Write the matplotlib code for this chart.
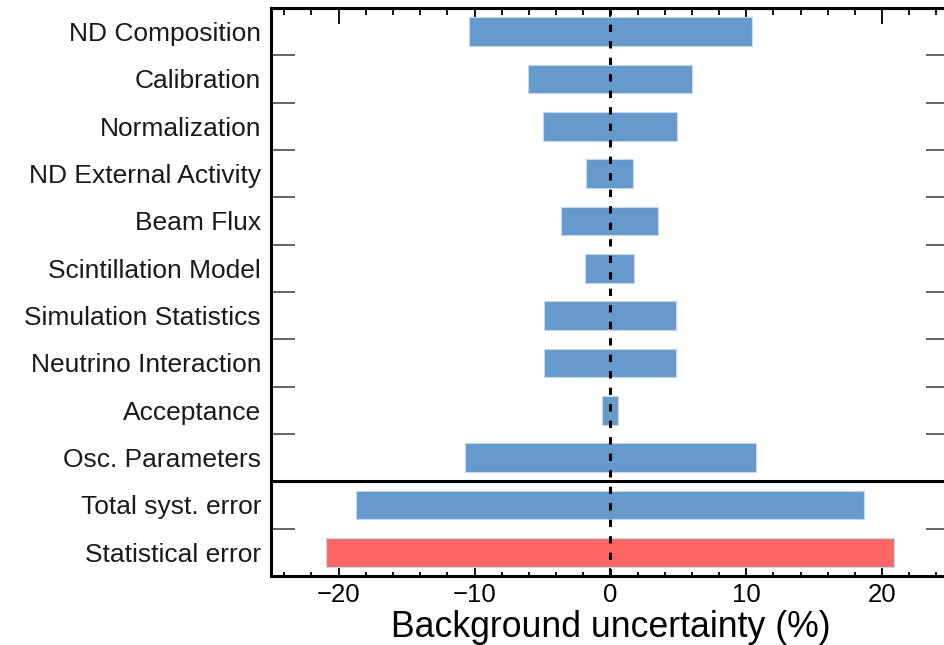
import matplotlib
matplotlib.use("Agg")
import matplotlib.pyplot as plt
from matplotlib.ticker import FixedLocator, MultipleLocator

plt.rcParams["font.family"] = ["Liberation Sans", "DejaVu Sans"]

# background uncertainty per source, in percent (down / up shift)
sources = [
    "ND Composition",
    "Calibration",
    "Normalization",
    "ND External Activity",
    "Beam Flux",
    "Scintillation Model",
    "Simulation Statistics",
    "Neutrino Interaction",
    "Acceptance",
    "Osc. Parameters",
    "Total syst. error",
    "Statistical error",
]
shift_down = [-10.4, -6.1, -4.95, -1.8, -3.6, -1.85, -4.85, -4.85, -0.65, -10.7, -18.7, -20.9]
shift_up = [10.4, 6.0, 4.9, 1.7, 3.5, 1.75, 4.8, 4.8, 0.55, 10.75, 18.7, 20.9]

blue = "#6699cc"
red = "#ff6666"
colors = [blue] * (len(sources) - 1) + [red]

fig = plt.figure(figsize=(9.45, 6.45), dpi=100)
ax = fig.add_axes([0.2865, 0.107, 0.7188, 0.8806])

ypos = list(range(len(sources)))
widths = [u - d for d, u in zip(shift_down, shift_up)]
ax.barh(ypos, widths, left=shift_down, height=0.6, color=colors,
        edgecolor="#c4d8ee", linewidth=0.8, zorder=2)

# zero line and the split between individual sources and totals
ax.axvline(0, color="black", lw=2.2, dashes=(2.4, 3.0), zorder=3)
ax.axhline(9.5, color="black", lw=2.2, zorder=3)

ax.set_xlim(-25, 25)
ax.set_ylim(len(sources) - 0.5, -0.5)

ax.set_yticks(ypos)
ax.set_yticklabels(sources, fontsize=19, color="#1a1a1a")
ax.yaxis.set_minor_locator(FixedLocator([i + 0.5 for i in range(len(sources) - 1) if i != 9]))
ax.tick_params(axis="y", which="major", length=0, pad=7)
ax.tick_params(axis="y", which="minor", direction="in", left=True, right=True,
               length=17.5, width=1.1, color="#3a3a3a")

ax.xaxis.set_major_locator(MultipleLocator(10))
ax.xaxis.set_minor_locator(MultipleLocator(2))
ax.tick_params(axis="x", which="major", direction="in", length=6, width=1.3,
               labelsize=18.5, pad=5)
ax.tick_params(axis="x", which="minor", direction="in", length=3.2, width=1.3)

# upper axis carries longer tick marks
top = ax.secondary_xaxis("top")
top.xaxis.set_major_locator(MultipleLocator(10))
top.xaxis.set_minor_locator(MultipleLocator(2))
top.tick_params(axis="x", which="major", direction="in", length=11.5, width=1.3, labeltop=False)
top.tick_params(axis="x", which="minor", direction="in", length=5.2, width=1.3)
top.spines["top"].set_linewidth(2.2)

for side in ax.spines.values():
    side.set_linewidth(2.2)

ax.set_xlabel("Background uncertainty (%)", fontsize=25.7, labelpad=2)

fig.savefig("out.png", dpi=100)
